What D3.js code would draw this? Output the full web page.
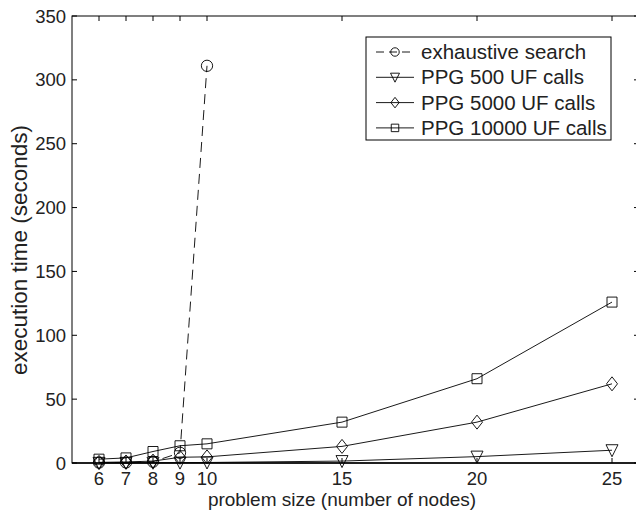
<!DOCTYPE html>
<html>
<head>
<meta charset="utf-8">
<script src="https://cdn.jsdelivr.net/npm/d3@7"></script>
<style>
  body { margin: 0; background: #fff; }
  svg { display: block; font-family: "Liberation Sans", Arial, sans-serif; }
</style>
</head>
<body>
<div class="svg-mount"></div>
<script>
const sizes = [6, 7, 8, 9, 10, 15, 20, 25];
const xTicks = [6, 7, 8, 9, 10, 15, 20, 25];
const yTicks = [0, 50, 100, 150, 200, 250, 300, 350];

// exhaustive search only goes up to 10 nodes
const exhaustiveSizes = [6, 7, 8, 9, 10];
const exhaustive = [0.3, 0.4, 1, 8, 311];
const ppg500 = [0.1, 0.1, 0.2, 0.3, 0.4, 1.5, 5, 10];
const ppg5000 = [0.5, 0.8, 1.5, 4.5, 4.8, 13, 32, 62];
const ppg10000 = [3, 4, 9, 13.5, 15, 32, 66, 126];

const seriesNames = [
  "exhaustive search",
  "PPG 500 UF calls",
  "PPG 5000 UF calls",
  "PPG 10000 UF calls",
];

const W = 636;
const H = 514;
const plot = { left: 72, right: 639, top: 16, bottom: 463 };

const x = d3.scaleLinear().domain([5, 26]).range([plot.left, plot.right]);
const y = d3.scaleLinear().domain([0, 350]).range([plot.bottom, plot.top]);

const svg = d3
  .select(".svg-mount")
  .append("svg")
  .attr("width", W)
  .attr("height", H);

// axes box (matlab style, ticks inside on all four sides)
const tick = 5;
svg.append("rect")
  .attr("x", plot.left)
  .attr("y", plot.top)
  .attr("width", plot.right - plot.left)
  .attr("height", plot.bottom - plot.top)
  .attr("fill", "none")
  .attr("stroke", "#000")
  .attr("stroke-width", 1);

const axisG = svg.append("g").attr("stroke", "#000").attr("stroke-width", 1);
xTicks.forEach((t) => {
  axisG.append("line").attr("x1", x(t)).attr("x2", x(t))
    .attr("y1", plot.bottom).attr("y2", plot.bottom - tick);
  axisG.append("line").attr("x1", x(t)).attr("x2", x(t))
    .attr("y1", plot.top).attr("y2", plot.top + tick);
});
yTicks.forEach((t) => {
  axisG.append("line").attr("x1", plot.left).attr("x2", plot.left + tick)
    .attr("y1", y(t)).attr("y2", y(t));
  axisG.append("line").attr("x1", plot.right).attr("x2", plot.right - tick)
    .attr("y1", y(t)).attr("y2", y(t));
});

svg.append("g")
  .selectAll("text")
  .data(xTicks)
  .join("text")
  .attr("x", (d) => x(d))
  .attr("y", plot.bottom + 22)
  .attr("text-anchor", "middle")
  .attr("font-size", 18.5)
  .attr("fill", "#222")
  .text((d) => d);

svg.append("g")
  .selectAll("text")
  .data(yTicks)
  .join("text")
  .attr("x", plot.left - 6)
  .attr("y", (d) => y(d) + 6.5)
  .attr("text-anchor", "end")
  .attr("font-size", 18.5)
  .attr("fill", "#222")
  .text((d) => d);

svg.append("text")
  .attr("x", 342)
  .attr("y", 506)
  .attr("text-anchor", "middle")
  .attr("font-size", 19)
  .attr("fill", "#222")
  .text("problem size (number of nodes)");

svg.append("text")
  .attr("transform", `translate(27,250) rotate(-90)`)
  .attr("text-anchor", "middle")
  .attr("font-size", 22.5)
  .attr("fill", "#222")
  .text("execution time (seconds)");

// markers
function drawMarker(g, type, cx, cy, k = 1) {
  const m = g.append("path")
    .attr("fill", "none")
    .attr("stroke", "#000")
    .attr("stroke-width", 0.9);
  if (type === "circle") {
    m.attr("d", d3.symbol(d3.symbolCircle, 100)());
  } else if (type === "triangle") {
    m.attr("d", "M-6,-5.5L6,-5.5L0,6.5Z");
  } else if (type === "diamond") {
    m.attr("d", "M0,-7L5.5,0L0,7L-5.5,0Z");
  } else {
    m.attr("d", "M-5,-5L5,-5L5,5L-5,5Z");
  }
  m.attr("transform", `translate(${cx},${cy}) scale(${k})`)
    .attr("vector-effect", "non-scaling-stroke");
}

const series = [
  { xs: exhaustiveSizes, ys: exhaustive, marker: "circle", dash: "10,6" },
  { xs: sizes, ys: ppg500, marker: "triangle", dash: null },
  { xs: sizes, ys: ppg5000, marker: "diamond", dash: null },
  { xs: sizes, ys: ppg10000, marker: "square", dash: null },
];

const line = d3.line().x((d) => x(d[0])).y((d) => y(d[1]));

const dataG = svg.append("g");
series.forEach((s) => {
  const pts = s.xs.map((v, i) => [v, s.ys[i]]);
  dataG.append("path")
    .attr("d", line(pts))
    .attr("fill", "none")
    .attr("stroke", "#000")
    .attr("stroke-width", 0.9)
    .attr("stroke-dasharray", s.dash);
  pts.forEach((p) => drawMarker(dataG, s.marker, x(p[0]), y(p[1])));
});

// redraw bottom axis line on top
svg.append("line")
  .attr("x1", plot.left).attr("x2", plot.right)
  .attr("y1", plot.bottom).attr("y2", plot.bottom)
  .attr("stroke", "#000").attr("stroke-width", 1.6);

// legend
const lg = { x: 366, y: 37, w: 245, h: 103 };
const legend = svg.append("g");
legend.append("rect")
  .attr("x", lg.x).attr("y", lg.y)
  .attr("width", lg.w).attr("height", lg.h)
  .attr("fill", "#fff")
  .attr("stroke", "#000")
  .attr("stroke-width", 1);

series.forEach((s, i) => {
  const ry = lg.y + 15 + i * 25.3;
  legend.append("line")
    .attr("x1", lg.x + 10).attr("x2", lg.x + 48)
    .attr("y1", ry).attr("y2", ry)
    .attr("stroke", "#000")
    .attr("stroke-width", 0.9)
    .attr("stroke-dasharray", s.dash ? "8,5" : null);
  drawMarker(legend, s.marker, lg.x + 29, ry, 0.75);
  legend.append("text")
    .attr("x", lg.x + 55)
    .attr("y", ry + 7)
    .attr("font-size", 20.5)
    .attr("fill", "#222")
    .text(seriesNames[i]);
});
</script>
</body>
</html>
